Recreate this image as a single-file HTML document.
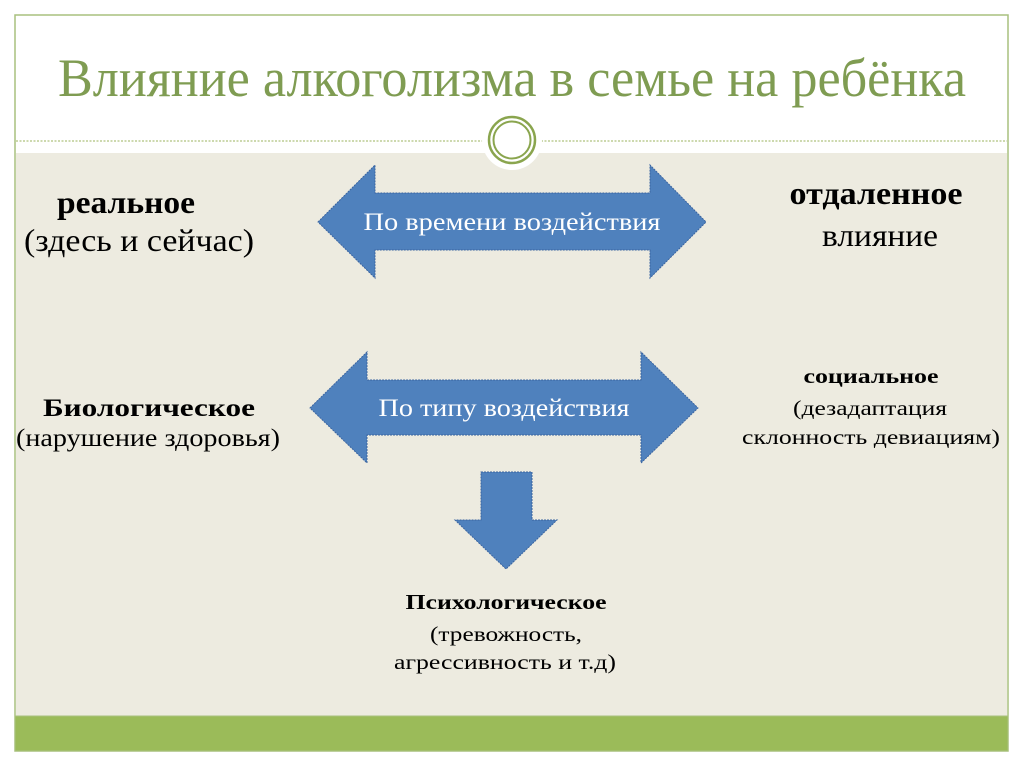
<!DOCTYPE html>
<html><head><meta charset="utf-8"><style>html,body{margin:0;padding:0;background:#fff}svg{display:block}</style></head>
<body>
<svg width="1024" height="767" viewBox="0 0 1024 767" xmlns="http://www.w3.org/2000/svg" font-family="Liberation Serif, serif">
<rect x="0" y="0" width="1024" height="767" fill="#ffffff"/>
<rect x="15" y="15" width="993" height="736" fill="#ffffff" stroke="#a9c07e" stroke-width="1.5"/>
<rect x="16" y="153" width="991" height="563" fill="#edebe0"/>
<line x1="16" y1="141" x2="1007" y2="141" stroke="#9bb35e" stroke-width="1" stroke-dasharray="2,1.5"/>
<rect x="15" y="716" width="993" height="35" fill="#9bbb59" stroke="#a9c07e" stroke-width="1"/>
<circle cx="512" cy="140" r="30" fill="#ffffff"/>
<circle cx="512" cy="140" r="23" fill="none" stroke="#8aa54e" stroke-width="2.5"/>
<circle cx="512" cy="140" r="18.5" fill="none" stroke="#8aa54e" stroke-width="2"/>
<text x="512" y="96" text-anchor="middle" font-size="54" fill="#7f9c52" textLength="908" lengthAdjust="spacingAndGlyphs">Влияние алкоголизма в семье на ребёнка</text>
<g fill="#4f81bd" stroke="#3a64a0" stroke-width="1" stroke-dasharray="2,1">
<polygon points="318,222 375,165 375,193 650,193 650,165 706,222 650,278 650,250 375,250 375,278"/>
<polygon points="310,408 367,352 367,380 641,380 641,352 698,408 641,463 641,435 367,435 367,463"/>
<polygon points="481,472 532,472 532,520 557,520 506,569 455,520 481,520"/>
</g>
<g text-anchor="middle" lengthAdjust="spacingAndGlyphs">
<text x="512" y="230" font-size="25" fill="#ffffff" textLength="297" lengthAdjust="spacingAndGlyphs">По времени воздействия</text>
<text x="504" y="416" font-size="25" fill="#ffffff" textLength="251" lengthAdjust="spacingAndGlyphs">По типу воздействия</text>
</g>
<g fill="#000" text-anchor="middle">
<text x="126" y="213" font-size="32" font-weight="bold" textLength="138" lengthAdjust="spacingAndGlyphs">реальное</text>
<text x="139" y="251" font-size="32" textLength="230" lengthAdjust="spacingAndGlyphs">(здесь и сейчас)</text>
<text x="876" y="204" font-size="32" font-weight="bold" textLength="173" lengthAdjust="spacingAndGlyphs">отдаленное</text>
<text x="880" y="246" font-size="32" textLength="116" lengthAdjust="spacingAndGlyphs">влияние</text>
<text x="149" y="416" font-size="25" font-weight="bold" textLength="212" lengthAdjust="spacingAndGlyphs">Биологическое</text>
<text x="148" y="446" font-size="25" textLength="264" lengthAdjust="spacingAndGlyphs">(нарушение здоровья)</text>
<text x="871" y="383" font-size="21" font-weight="bold" textLength="135" lengthAdjust="spacingAndGlyphs">социальное</text>
<text x="870" y="415" font-size="21" textLength="154" lengthAdjust="spacingAndGlyphs">(дезадаптация</text>
<text x="871" y="444" font-size="21" textLength="258" lengthAdjust="spacingAndGlyphs">склонность девиациям)</text>
<text x="506" y="609" font-size="21" font-weight="bold" textLength="201" lengthAdjust="spacingAndGlyphs">Психологическое</text>
<text x="506" y="641" font-size="21" textLength="152" lengthAdjust="spacingAndGlyphs">(тревожность,</text>
<text x="505" y="669" font-size="21" textLength="222" lengthAdjust="spacingAndGlyphs">агрессивность и т.д)</text>
</g>
</svg>
</body></html>
